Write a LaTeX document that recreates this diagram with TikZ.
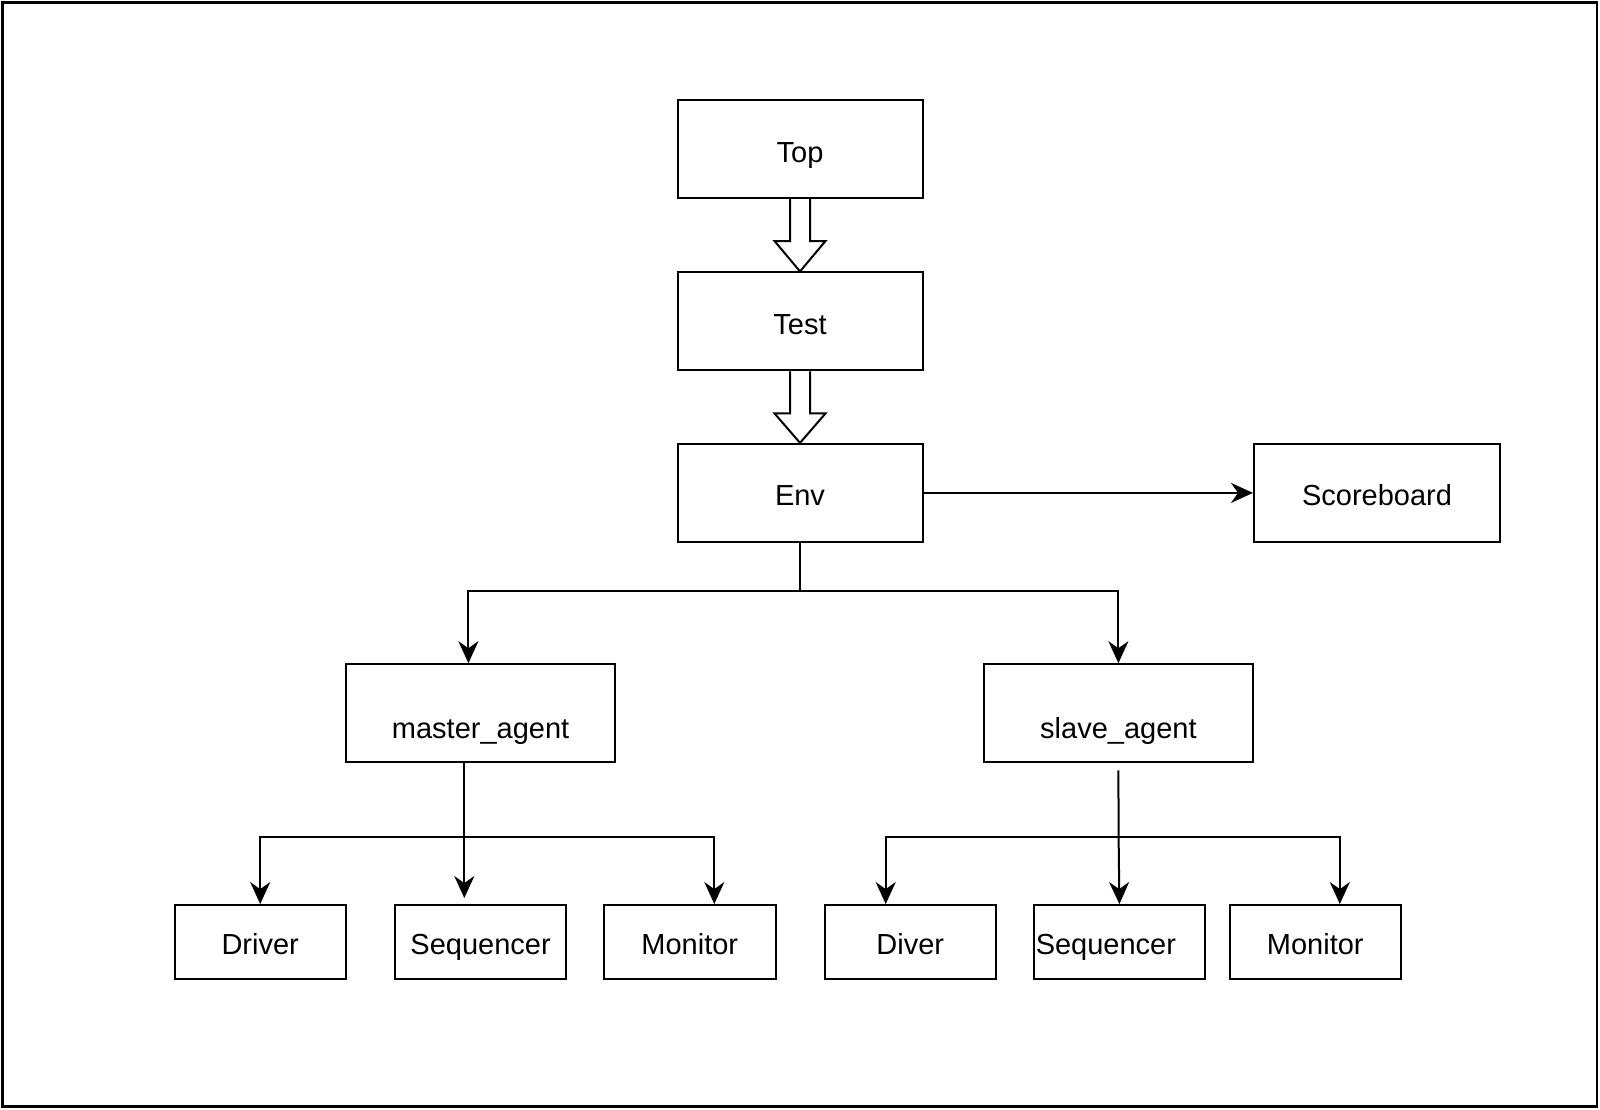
\documentclass[tikz,border=0pt]{standalone}
\usepackage{fontspec}
\setmainfont{Liberation Sans}
\usetikzlibrary{arrows.meta,calc}
\begin{document}
\begin{tikzpicture}[x=1pt,y=-1pt,
  box/.style={draw=black,line width=2pt,minimum width=245pt,minimum height=98pt,inner sep=0pt,
    text height=28pt,text depth=2pt,font=\fontsize{29}{34}\selectfont},
  small/.style={box,minimum width=171.4pt,minimum height=73.5pt},
  lbl/.style={inner sep=0pt,text height=28pt,text depth=2pt,font=\fontsize{29}{34}\selectfont},
  conn/.style={line width=2pt},
  arr/.style={conn,-{Stealth[length=22pt,width=20pt,inset=7pt]}},
  blockarrow/.style={draw=black,line width=2pt,fill=white,line join=miter}]
\useasboundingbox (0,0) rectangle (1600,1109);
\draw[line width=2.5pt] (2.5,2.5) rectangle (1597,1106.5);

\node[box] (top) at (800,149) {Top};
\node[box] (test) at (800,321.4) {Test};
\node[box] (env) at (800,492.9) {Env};
\node[box,minimum width=246pt] (score) at (1377,492.9) {Scoreboard};
\node[box,minimum width=269.4pt] (master) at (480.6,713.2) {};
\node[lbl] at ($(master.center)+(0,12)$) {master\_agent};
\node[box,minimum width=269.4pt] (slave) at (1118.4,713.2) {};
\node[lbl] at ($(slave.center)+(0,12)$) {slave\_agent};

\node[small] (drv) at (260.2,941.8) {Driver};
\node[small] (seq) at (480.6,941.8) {Sequencer};
\node[small] (mon) at (689.8,941.8) {Monitor};
\node[small] (div) at (910.2,941.8) {Diver};
\node[small] (seqb) at (1119.4,941.8) {};
\node[lbl] at ($(seqb.center)+(-13.5,0)$) {Sequencer};
\node[small] (monb) at (1315.3,941.8) {Monitor};

% block arrows
\foreach \a/\b in {top/test,test/env}{
  \draw[blockarrow] ($(\a.south)+(-10,0)$) -- ($(\a.south)+(-10,42)$) -- ($(\a.south)+(-25.5,42)$)
    -- (\b.north) -- ($(\a.south)+(25.5,42)$) -- ($(\a.south)+(10,42)$) -- ($(\a.south)+(10,0)$);
}

% Env connectors
\draw[arr] (env.east) -- (score.west);
\coordinate (ej) at (800,590.8);
\draw[conn] (env.south) -- (ej);
\draw[arr] (ej) -| ([xshift=-12.2pt]master.north);
\draw[arr] (ej) -| (slave.north);

% master agent
\coordinate (ms) at ($(master.south)+(-16.3,0)$);
\coordinate (mj) at (464.3,836.7);
\draw[arr] (ms) -- ([xshift=-16.3pt,yshift=6pt]seq.north);
\draw[arr] (mj) -| (drv.north);
\draw[arr] (mj) -| ([xshift=24.5pt]mon.north);

% slave agent
\coordinate (ss) at (1118.4,770.4);
\coordinate (sj) at (1118.6,836.7);
\draw[arr] (ss) -- (sj) -- (seqb.north);
\draw[arr] (sj) -| ([xshift=-24.5pt]div.north);
\draw[arr] (sj) -| ([xshift=24.5pt]monb.north);
\end{tikzpicture}
\end{document}
